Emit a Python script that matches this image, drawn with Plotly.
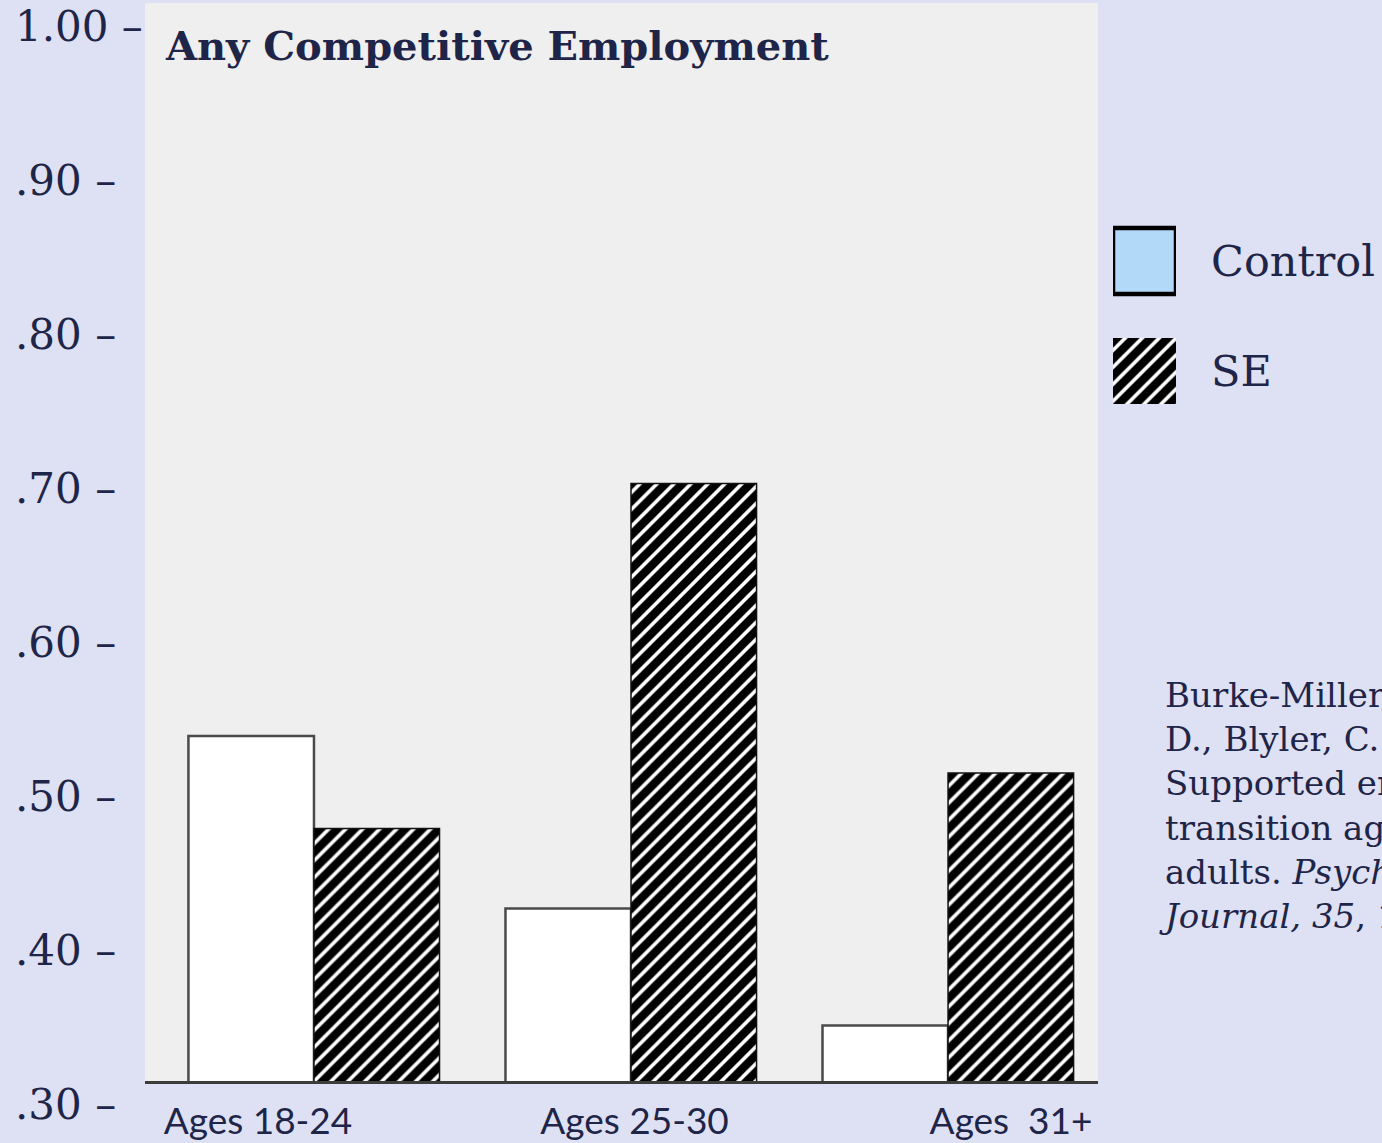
import plotly.graph_objects as go

# ---- data ----
categories = ["Ages 18-24", "Ages 25-30", "Ages 31+"]
category_labels = ["Ages 18-24", "Ages 25-30", "Ages&nbsp;&nbsp;31+"]
control = [0.524, 0.412, 0.336]
se = [0.464, 0.688, 0.500]
y_tickvals = [1.00, 0.90, 0.80, 0.70, 0.60, 0.50, 0.40, 0.30]
y_ticktext = ["1.00 –", ".90 –", ".80 –", ".70 –", ".60 –", ".50 –", ".40 –", ".30 –"]
legend_names = ["Control", "SE"]
legend_swatch = [1, 1]
title_text = "Any Competitive Employment"
citation = ("Burke-Miller, J. K., Razzano, L. A., Grey,<br>"
            "D., Blyler, C. R., & Cook, J. A. (2012).<br>"
            "Supported employment outcomes for<br>"
            "transition age youth and young<br>"
            "adults. <i>Psychiatric Rehabilitation</i><br>"
            "<i>Journal, 35</i>, 171-179.")

# ---- style ----
W, H = 1382, 1143
BG = "#dde1f3"
PANEL = "#efefef"
TXT = "#1f2548"
SERIF = "DejaVu Serif"

def px_x(p):
    return p / W

def px_y(p):
    return 1 - p / H

hatch = dict(shape="/", fgcolor="black", bgcolor="white", fgopacity=1,
             size=12, solidity=0.7, fillmode="replace")

fig = go.Figure()

fig.add_trace(go.Bar(
    x=categories, y=control, name="Control", xaxis="x", yaxis="y",
    offsetgroup="c",
    marker=dict(color="white", line=dict(color="#4a4a4a", width=2.5)),
    showlegend=False,
))
fig.add_trace(go.Bar(
    x=categories, y=se, name="SE", xaxis="x", yaxis="y",
    offsetgroup="s",
    marker=dict(color="black", line=dict(color="#111111", width=1.5),
                pattern=hatch),
    showlegend=False,
))
# carrier for the category labels axis (invisible)
fig.add_trace(go.Scatter(
    x=categories, y=se, xaxis="x2", yaxis="y", mode="markers",
    marker=dict(opacity=0), showlegend=False, hoverinfo="skip",
))

# custom legend swatches
fig.add_trace(go.Bar(
    x=[legend_swatch[0]], y=[legend_names[0]], orientation="h",
    xaxis="x3", yaxis="y3", offsetgroup="lg", width=0.6,
    marker=dict(color="#b3d9f8", line=dict(color="black", width=4.5)),
    showlegend=False, hoverinfo="skip",
))
fig.add_trace(go.Bar(
    x=[legend_swatch[1]], y=[legend_names[1]], orientation="h",
    xaxis="x3", yaxis="y3", offsetgroup="lg", width=0.6,
    marker=dict(color="black", line=dict(width=0), pattern=hatch),
    showlegend=False, hoverinfo="skip",
))

xdom = [px_x(145), px_x(1098)]
ydom = [px_y(1081), px_y(3)]

fig.update_layout(
    width=W, height=H,
    margin=dict(l=0, r=0, t=0, b=0, autoexpand=False),
    paper_bgcolor=BG, plot_bgcolor="rgba(0,0,0,0)",
    barmode="group", bargap=0.208, bargroupgap=0,
    showlegend=False,
    font=dict(family=SERIF, color=TXT),
    xaxis=dict(domain=xdom, anchor="y", range=[-0.533, 2.473],
               showticklabels=False, ticks="", showgrid=False, zeroline=False,
               showline=True, linecolor="#3c3c3c", linewidth=3,
               automargin=False),
    xaxis2=dict(overlaying="x", anchor="y", side="bottom", type="category",
                range=[-0.300, 2.231], tickmode="array", tickvals=categories,
                ticktext=category_labels, ticks="", showgrid=False,
                zeroline=False, showline=False, ticklabelstandoff=15,
                automargin=False,
                tickfont=dict(family="Lato", size=37, color=TXT)),
    yaxis=dict(domain=ydom, anchor="free", position=px_x(14), side="right",
               range=[0.30, 1.00], tickmode="array", tickvals=y_tickvals,
               ticktext=y_ticktext, ticks="", showgrid=False, zeroline=False,
               showline=False, ticklabelshift=23, ticklabelstandoff=0,
               automargin=False,
               tickfont=dict(family=SERIF, size=42, color=TXT)),
    xaxis3=dict(domain=[px_x(1113), px_x(1176)], anchor="y3", range=[0, 1],
                visible=False, automargin=False),
    yaxis3=dict(domain=[px_y(426), px_y(206)], anchor="x3", type="category",
                categoryorder="array", categoryarray=legend_names,
                autorange="reversed", side="right", ticks="", showgrid=False,
                zeroline=False, showline=False, ticklabelstandoff=34,
                automargin=False,
                tickfont=dict(family=SERIF, size=43, color=TXT)),
    shapes=[dict(type="rect", xref="x domain", yref="y domain",
                 x0=0, x1=1, y0=0, y1=1, fillcolor=PANEL,
                 line=dict(width=0), layer="below")],
    annotations=[
        dict(text=title_text, xref="paper", yref="paper",
             x=px_x(163), y=px_y(45), xanchor="left", yanchor="middle",
             showarrow=False,
             font=dict(family=SERIF, size=40, color=TXT, weight="bold")),
        dict(text=citation, xref="paper", yref="paper",
             x=px_x(1157), y=px_y(673), xanchor="left", yanchor="top",
             align="left", showarrow=False,
             font=dict(family=SERIF, size=34, color=TXT)),
    ],
)

fig.write_html("out.html", config=dict(displayModeBar=False),
               post_script="document.body.style.margin='0';document.body.style.overflow='hidden';")
